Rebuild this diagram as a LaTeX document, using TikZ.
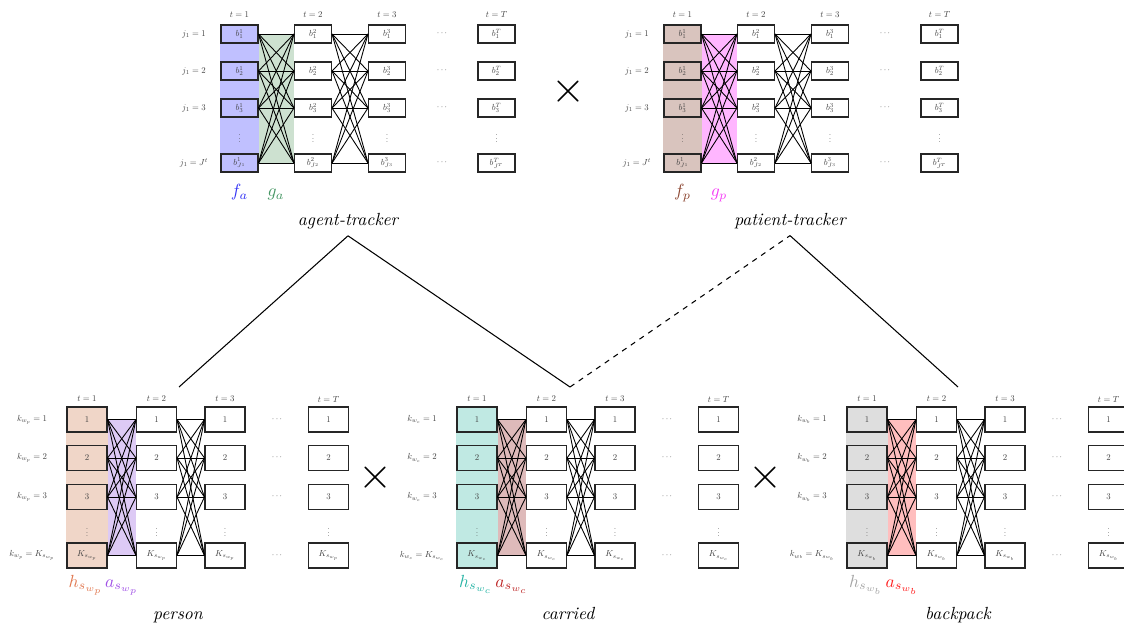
\documentclass[tikz,border=0pt]{standalone}
\usetikzlibrary{backgrounds}
\newcommand{\lbl}[1]{\scalebox{0.5}{$#1$}}

\definecolor{fa}{RGB}{192,192,255}   \definecolor{fatxt}{RGB}{50,50,245}
\definecolor{ga}{RGB}{205,225,208}   \definecolor{gatxt}{RGB}{70,150,100}
\definecolor{fp}{RGB}{217,196,190}   \definecolor{fptxt}{RGB}{140,70,50}
\definecolor{gp}{RGB}{255,182,255}   \definecolor{gptxt}{RGB}{245,60,245}
\definecolor{hp}{RGB}{240,214,200}   \definecolor{hptxt}{RGB}{225,120,80}
\definecolor{ap}{RGB}{221,202,245}   \definecolor{aptxt}{RGB}{160,80,230}
\definecolor{hc}{RGB}{192,233,227}   \definecolor{hctxt}{RGB}{40,180,165}
\definecolor{ac}{RGB}{222,186,186}   \definecolor{actxt}{RGB}{190,40,40}
\definecolor{hb}{RGB}{222,222,222}   \definecolor{hbtxt}{RGB}{165,165,165}
\definecolor{ab}{RGB}{255,190,190}   \definecolor{abtxt}{RGB}{255,30,30}

\begin{document}
\begin{tikzpicture}[x=0.02cm, y=-0.02cm]
    \useasboundingbox (0,0) rectangle (1124,624);
    \tikzset{VertexStyle/.style={draw=black!85, line width=0.6pt, rectangle,
        minimum width=0.74cm, minimum height=0.36cm, inner sep=0pt,
        text=black!75}}
    \tikzset{EdgeStyle/.style={draw=black, line width=0.5pt}}
    \tikzset{small/.style={text=black!75, inner sep=1pt}}
    \tikzset{factor/.style={anchor=base}}
    \tikzset{track/.style={anchor=base, font=\itshape}}

    % trackers: b^t_j lattices
    \foreach \dx/\pre/\sub/\fc/\gc in {0/ag/a/fa/ga, 443/pt/p/fp/gp} {
        \foreach \col/\cx/\tm in {1/239.5/1, 2/313/2, 3/387/3, 4/496.5/T} {
            \node[small] (\pre t\col) at (\cx+\dx,15) {\lbl{t=\tm}};
            \node[small] (\pre d\col) at (\cx+\dx,136) {\lbl{\vdots}};
            \foreach \row/\ry/\rl in {1/34/1, 2/71/2, 3/108/3, 4/163/{J^{\tm}}}
                \node[VertexStyle] (\pre\col\row) at (\cx+\dx,\ry) {\lbl{b^{\tm}_{\rl}}};
        }
        \foreach \row/\ry/\rl in {1/34/1, 2/71/2, 3/108/3, 4/163/J^t} {
            \node[small] (\pre j\row) at (194+\dx,\ry) {\lbl{j_1=\rl}};
            \node[small] (\pre e\row) at (442+\dx,\ry) {\lbl{\cdots}};
        }
        \foreach \i in {1,...,4}
            \foreach \j in {1,...,4} {
                \draw[EdgeStyle] (\pre1\i.east) -- (\pre2\j.west);
                \draw[EdgeStyle] (\pre2\i.east) -- (\pre3\j.west);
            }
        \begin{scope}[on background layer]
            \fill[\fc] (\pre11.north west) rectangle (\pre14.south east);
            \fill[\gc] (\pre11.east) rectangle (\pre24.west);
        \end{scope}
        \node[factor, text=\fc txt] (\pre fl) at (239.5+\dx,197) {$f_\sub$};
        \node[factor, text=\gc txt] (\pre gl) at (276+\dx,197) {$g_\sub$};
    }

    % object lattices
    \tikzset{VertexStyle/.append style={minimum width=0.8cm, minimum height=0.5cm}}
    \foreach \dx/\pre/\sub/\hc/\ac in {0/pe/p/hp/ap, 390/ca/c/hc/ac, 780/bp/b/hb/ab} {
        \foreach \col/\cx/\tm in {1/87/1, 2/156.5/2, 3/225/3, 4/328.5/T} {
            \node[small] (\pre t\col) at (\cx+\dx,399) {\lbl{t=\tm}};
            \node[small] (\pre d\col) at (\cx+\dx,530) {\lbl{\vdots}};
            \foreach \row/\ry/\rl in {1/419.5/1, 2/458/2, 3/497/3, 4/555.5/{K_{s_{w_\sub}}}}
                \node[VertexStyle] (\pre\col\row) at (\cx+\dx,\ry) {\lbl{\rl}};
        }
        \foreach \row/\ry/\rl in {1/419.5/1, 2/458/2, 3/497/3, 4/555.5/{K_{s_{w_\sub}}}} {
            \node[small] (\pre k\row) at (32+\dx,\ry) {\lbl{k_{w_\sub}=\rl}};
            \node[small] (\pre e\row) at (277+\dx,\ry) {\lbl{\cdots}};
        }
        \foreach \i in {1,...,4}
            \foreach \j in {1,...,4} {
                \draw[EdgeStyle] (\pre1\i.east) -- (\pre2\j.west);
                \draw[EdgeStyle] (\pre2\i.east) -- (\pre3\j.west);
            }
        \begin{scope}[on background layer]
            \fill[\hc] (\pre11.north west) rectangle (\pre14.south east);
            \fill[\ac] (\pre11.east) rectangle (\pre24.west);
        \end{scope}
        \node[factor, text=\hc txt] (\pre hl) at (86+\dx,587) {$h_{s_{w_\sub}}$};
        \node[factor, text=\ac txt] (\pre al) at (122+\dx,587) {$a_{s_{w_\sub}}$};
    }

    % products
    \node[font=\Huge] (x1) at (568,92) {$\times$};
    \node[font=\Huge] (x2) at (375,478) {$\times$};
    \node[font=\Huge] (x3) at (765,478) {$\times$};

    % names and links
    \node[track] (agent) at (348,226) {agent-tracker};
    \node[track] (patient) at (790,226) {patient-tracker};
    \node[track] (person) at (178,619) {person};
    \node[track] (carried) at (568,619) {carried};
    \node[track] (backpack) at (958,619) {backpack};
    \coordinate (petop) at (179,387);
    \coordinate (catop) at (570,387);
    \coordinate (bptop) at (958,387);
    \draw[semithick] (agent.south) -- (petop);
    \draw[semithick] (agent.south) -- (catop);
    \draw[semithick, dashed] (catop) -- (patient.south);
    \draw[semithick] (patient.south) -- (bptop);
\end{tikzpicture}
\end{document}
